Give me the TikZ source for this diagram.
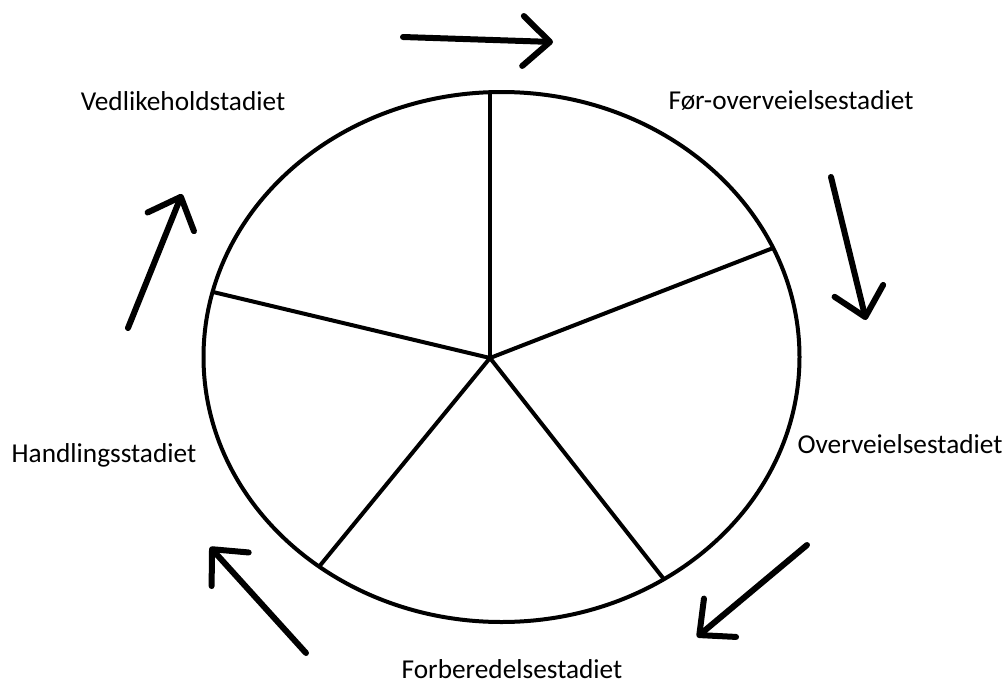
\documentclass[tikz,border=0pt]{standalone}
\usepackage{fontspec}
\setmainfont{Carlito}
\usetikzlibrary{arrows.meta,calc}
\begin{document}
\begin{tikzpicture}[x=1pt,y=-1pt,
  lbl/.style={anchor=base,inner sep=0pt,font=\fontsize{27.3}{30}\selectfont},
  cyc/.style={line width=6pt,line cap=round,-{Straight Barb[length=27pt,width=50pt,line cap=round,line join=round]}},
  rim/.style={line width=4pt},
  spoke/.style={line width=4pt}]
\useasboundingbox (0,0) rectangle (1005,683);
\coordinate (c) at (490,358);
\coordinate (e0) at (501.5,357);
\begin{scope}
  \clip (e0) ellipse [x radius=298, y radius=265];
  \draw[spoke] (c) -- ($(c)!2!(490,92)$);
  \draw[spoke] (c) -- ($(c)!2!(768,250)$);
  \draw[spoke] (c) -- ($(c)!2!(663,578)$);
  \draw[spoke] (c) -- ($(c)!2!(318,568)$);
  \draw[spoke] (c) -- ($(c)!2!(213,292)$);
\end{scope}
\draw[rim] (e0) ellipse [x radius=298, y radius=265];
\coordinate (a1s) at (403,37); \coordinate (a1e) at (553,42);
\coordinate (a2s) at (831,177); \coordinate (a2e) at (866,320);
\coordinate (a3s) at (807,545); \coordinate (a3e) at (697,637);
\coordinate (a4s) at (306,653); \coordinate (a4e) at (210,547);
\coordinate (a5s) at (128,328); \coordinate (a5e) at (182,194);
\draw[cyc] (a1s) -- (a1e);
\draw[cyc] (a2s) -- (a2e);
\draw[cyc] (a3s) -- (a3e);
\draw[cyc] (a4s) -- (a4e);
\draw[cyc] (a5s) -- (a5e);
\node[lbl] (l1) at (183,110) {Vedlikeholdstadiet};
\node[lbl] (l2) at (791,109) {Før-overveielsestadiet};
\node[lbl] (l3) at (900,453) {Overveielsestadiet};
\node[lbl] (l4) at (104,462) {Handlingsstadiet};
\node[lbl] (l5) at (512,678) {Forberedelsestadiet};
\end{tikzpicture}
\end{document}
